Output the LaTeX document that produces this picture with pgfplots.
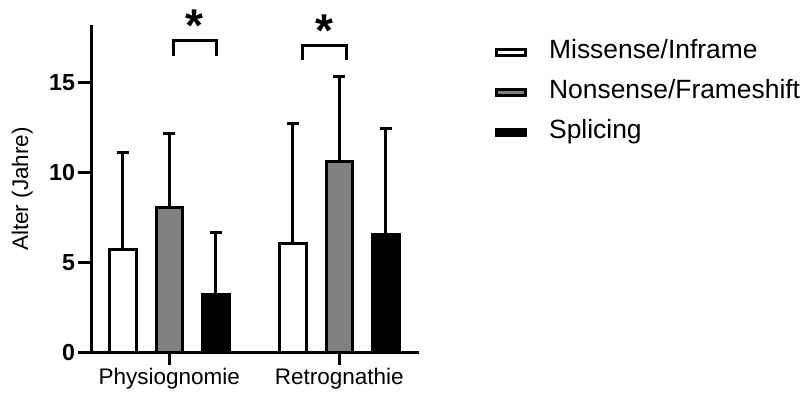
\documentclass[border=0pt]{standalone}
\usepackage{fontspec}
\setmainfont{Liberation Sans}
\usepackage{pgfplots}
\pgfplotsset{compat=1.18}
\definecolor{bargray}{RGB}{128,128,128}
\begin{document}
\begin{tikzpicture}
\useasboundingbox (0,0) rectangle (802pt,396pt);
\begin{axis}[
  at={(91pt,43.5pt)}, anchor=south west,
  scale only axis, width=327.5pt, height=327pt,
  xmin=-0.461, xmax=1.466, ymin=0, ymax=18.2,
  axis x line*=bottom, axis y line*=left,
  axis line style={-, line width=3pt, black},
  ytick={0,5,10,15}, xtick={0,1}, xticklabels={Physiognomie,Retrognathie},
  tick align=outside, major tick length=12.5pt,
  tick style={line width=3pt, black},
  ybar=20pt, bar width=26.5pt,
  clip=false,
  /pgf/number format/assume math mode=true,
  yticklabel style={font=\fontsize{23.2}{26}\selectfont\bfseries},
  xticklabel style={font=\fontsize{22.5}{26}\selectfont},
  ylabel={Alter (Jahre)},
  every axis y label/.style={at={(rel axis cs:-0.177,0.5)}, rotate=90, anchor=south, inner sep=0pt, font=\fontsize{22.5}{26}\selectfont},
  legend style={at={(1.232,0.958)}, anchor=north west, draw=none, fill=none, inner sep=0pt,
    row sep=15.5pt, font=\fontsize{26.4}{30}\selectfont,
    nodes={inner sep=0pt, text height=19pt, text depth=5.5pt},
    /tikz/every odd column/.append style={column sep=22pt}},
  legend cell align=left,
  every axis plot post/.append style={legend image code/.code={\draw[#1, line width=3pt] (0pt,-4pt) rectangle (29.5pt,2.5pt);}},
  error bars/error bar style={line width=3pt, black},
  error bars/error mark options={line width=3pt, mark size=6pt, black, rotate=90},
]
\addplot[draw=black, fill=white, line width=3pt,
  error bars/.cd, y dir=plus, y explicit]
  coordinates {(0,5.71) +- (0,5.44) (1,6.08) +- (0,6.68)};
\addplot[draw=black, fill=bargray, line width=3pt,
  error bars/.cd, y dir=plus, y explicit]
  coordinates {(0,8.07) +- (0,4.13) (1,10.61) +- (0,4.75)};
\addplot[draw=black, fill=black, line width=3pt,
  error bars/.cd, y dir=plus, y explicit]
  coordinates {(0,3.21) +- (0,3.49) (1,6.58) +- (0,5.90)};
\legend{Missense/Inframe, Nonsense/Frameshift, Splicing}
\end{axis}
\begin{axis}[
  at={(91pt,43.5pt)}, anchor=south west,
  scale only axis, width=327.5pt, height=327pt,
  xmin=-0.461, xmax=1.466, ymin=0, ymax=18.2,
  axis lines=none, clip=false,
]
\addplot[line width=3.5pt, black, line join=miter] coordinates {(0.025,16.5) (0.025,17.37) (0.278,17.37) (0.278,16.5)};
\addplot[line width=3.5pt, black, line join=miter] coordinates {(0.784,16.28) (0.784,17.10) (1.042,17.10) (1.042,16.28)};
\node[anchor=base, inner sep=0pt, font=\fontsize{46}{46}\selectfont\bfseries] at (axis cs:0.15,17.33) {*};
\node[anchor=base, inner sep=0pt, font=\fontsize{46}{46}\selectfont\bfseries] at (axis cs:0.91,17.03) {*};
\end{axis}
\end{tikzpicture}
\end{document}
